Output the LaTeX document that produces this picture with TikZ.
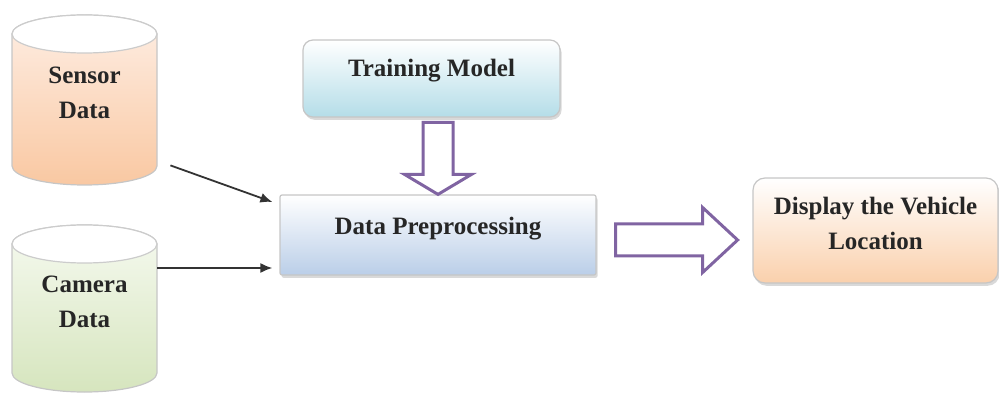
\documentclass[tikz,border=0pt]{standalone}
\usepackage{fontspec}
\setmainfont{Liberation Serif}
\usetikzlibrary{arrows.meta,shadows}
\definecolor{sensorbot}{RGB}{249,200,162}
\definecolor{sensortop}{RGB}{254,238,228}
\definecolor{camerabot}{RGB}{214,229,190}
\definecolor{cameratop}{RGB}{246,250,240}
\definecolor{trainbot}{RGB}{180,221,232}
\definecolor{prepbot}{RGB}{186,206,232}
\definecolor{showbot}{RGB}{250,208,172}
\definecolor{arrowpurple}{RGB}{128,100,162}

\begin{document}
\begin{tikzpicture}[x=0.5pt,y=0.5pt,
  every node/.style={font=\fontsize{12.5}{17.5}\selectfont\bfseries, align=center, text=black!85},
  cyl/.style={draw=gray!45, line width=0.6pt},
  dbcap/.style={draw=gray!40, line width=0.6pt, fill=white},
  dbtext/.style={minimum width=72.5pt, inner sep=0pt},
  box/.style={draw=gray!45, line width=0.6pt, top color=white,
    drop shadow={opacity=0.3, shadow xshift=0.8pt, shadow yshift=-1.4pt}},
  hollow/.style={draw=arrowpurple, line width=1.5pt, fill=white, line join=miter},
  feed/.style={-{Latex[length=6pt,width=5pt]}, line width=0.9pt, black!80}]

\useasboundingbox (0,0) rectangle (999,396);

\shade[cyl, top color=sensortop, bottom color=sensorbot] (12,362) -- (12,230)
  arc[start angle=180, end angle=360, x radius=36.25pt, y radius=9.5pt]
  -- (157,362) arc[start angle=0, end angle=180, x radius=36.25pt, y radius=9.5pt] -- cycle;
\draw[dbcap] (84.5,362) ellipse [x radius=36.25pt, y radius=9.5pt];
\shade[cyl, top color=cameratop, bottom color=camerabot] (12,152) -- (12,23)
  arc[start angle=180, end angle=360, x radius=36.25pt, y radius=9.5pt]
  -- (157,152) arc[start angle=0, end angle=180, x radius=36.25pt, y radius=9.5pt] -- cycle;
\draw[dbcap] (84.5,152) ellipse [x radius=36.25pt, y radius=9.5pt];

\node[dbtext, minimum height=85pt, text depth=7pt] (sensor) at (84.5,296) {Sensor\\Data};
\node[dbtext, minimum height=83.5pt, text depth=7pt] (camera) at (84.5,87.5) {Camera\\Data};

\node[box, bottom color=trainbot, rounded corners=5pt, minimum width=128.5pt,
  minimum height=38.5pt, text depth=11pt] (train) at (431.5,317.5) {Training Model};
\node[box, bottom color=prepbot, rounded corners=1pt, minimum width=158pt,
  minimum height=40pt, text depth=9pt] (prep) at (438,161) {Data Preprocessing};
\node[box, bottom color=showbot, rounded corners=6pt, minimum width=122.5pt,
  minimum height=52.5pt, text depth=7.5pt] (show) at (875.5,165.5) {Display the Vehicle\\Location};

\draw[feed] ([shift={(13,20)}]sensor.south east) -- ([shift={(-7,33)}]prep.west);
\draw[feed] ([shift={(0,40.5)}]camera.east) -- ([shift={(-7,-33)}]prep.west);

\draw[hollow] (prep.north) -- ++(-33.5,20) -- ++(18.5,0) -- ++(0,52) -- ++(30,0)
  -- ++(0,-52) -- ++(18.5,0) -- cycle;
\draw[hollow] ([shift={(141,-5)}]prep.east) -- ++(-35,32.5) -- ++(0,-16.5) -- ++(-87,0)
  -- ++(0,-32) -- ++(87,0) -- ++(0,-16.5) -- cycle;
\end{tikzpicture}
\end{document}
